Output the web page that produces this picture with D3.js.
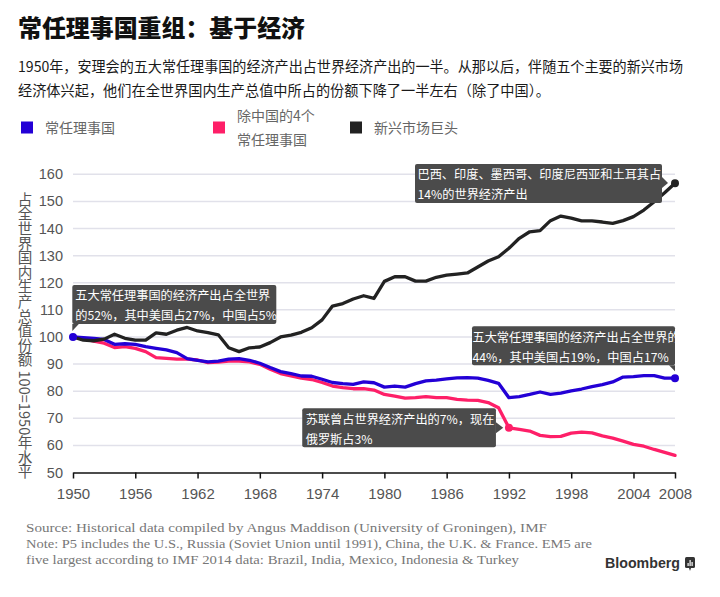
<!DOCTYPE html>
<html>
<head>
<meta charset="utf-8">
<script src="https://cdn.jsdelivr.net/npm/d3@7"></script>
<style>
  html, body { margin: 0; padding: 0; background: #fff; }
  svg { display: block; }
</style>
</head>
<body>
<svg id="chart" width="720" height="597"></svg>
<script>
// ---------------- DATA ----------------
const years = [1950,1951,1952,1953,1954,1955,1956,1957,1958,1959,
               1960,1961,1962,1963,1964,1965,1966,1967,1968,1969,
               1970,1971,1972,1973,1974,1975,1976,1977,1978,1979,
               1980,1981,1982,1983,1984,1985,1986,1987,1988,1989,
               1990,1991,1992,1993,1994,1995,1996,1997,1998,1999,
               2000,2001,2002,2003,2004,2005,2006,2007,2008];

// P5: permanent members of the UN Security Council
const p5 = [100,99.75,99.5,99.1,97.3,97.5,97.3,96.4,95.8,95.2,
            94.2,92,91.4,90.8,91.1,91.8,92,91.4,90.3,88.7,
            87.2,86.5,85.6,85.5,84.4,83.2,82.8,82.5,83.4,83.1,
            81.5,81.9,81.5,82.8,83.8,84.1,84.5,84.9,85.0,84.8,
            84.0,82.9,77.6,78.0,78.8,79.7,78.8,79.3,80.1,80.8,
            81.7,82.4,83.4,85.2,85.4,85.7,85.7,84.8,84.8];

// P4: P5 excluding China
const p4 = [100,99.4,98.5,97.7,96.1,96.4,95.8,94.6,92.4,92.1,
            91.8,91.8,91.5,90.5,90.7,91.1,91.1,90.8,89.9,88.1,
            86.5,85.6,84.8,84.3,83.2,81.9,81.3,80.9,80.9,80.4,
            78.8,78.2,77.4,77.6,78.0,77.6,77.6,77.0,76.7,76.6,
            75.8,73.9,66.5,65.9,65.3,63.7,63.2,63.3,64.5,64.9,
            64.6,63.5,62.7,61.6,60.4,59.7,58.5,57.4,56.3];

// EM5: emerging-market giants
const em5 = [100,98.8,98.6,99.2,101,99.5,98.8,98.8,101.5,101,
             102.5,103.5,102.2,101.6,100.8,96,94.6,96,96.3,97.9,
             100,100.7,101.7,103.4,106.3,111.4,112.3,114,115.2,114.2,
             120.5,122.2,122.2,120.6,120.6,122,122.8,123.2,123.6,125.8,
             128,129.6,132.7,136.4,138.8,139.2,142.9,144.6,143.8,142.8,
             142.8,142.4,141.9,142.9,144.4,146.8,149.9,153.2,156.7];

const xTicks = [1950,1956,1962,1968,1974,1980,1986,1992,1998,2004,2008];
const yTicks = [50,60,70,80,90,100,110,120,130,140,150,160];

const seriesNames = ["常任理事国", "除中国的4个|常任理事国", "新兴市场巨头"];

const titleText = "常任理事国重组：基于经济";
const subtitleLines = [
  "1950年，安理会的五大常任理事国的经济产出占世界经济产出的一半。从那以后，伴随五个主要的新兴市场",
  "经济体兴起，他们在全世界国内生产总值中所占的份额下降了一半左右（除了中国）。"
];
const yAxisTitle = "占全世界国内生产总值份额 100=1950年水平";
const footerLines = [
  "Source: Historical data compiled by Angus Maddison (University of Groningen), IMF",
  "Note: P5 includes the U.S., Russia (Soviet Union until 1991), China, the U.K. & France. EM5 are",
  "five largest according to IMF 2014 data: Brazil, India, Mexico, Indonesia & Turkey"
];

const annoTexts = [
  ["五大常任理事国的经济产出占全世界", "的52%，其中美国占27%，中国占5%"],
  ["巴西、印度、墨西哥、印度尼西亚和土耳其占", "14%的世界经济产出"],
  ["五大常任理事国的经济产出占全世界的", "44%，其中美国占19%，中国占17%"],
  ["苏联曾占世界经济产出的7%，现在", "俄罗斯占3%"]
];

// ---------------- LAYOUT / STYLE ----------------
const colors = { p5: "#2300d6", p4: "#fe1f68", em5: "#222222" };
const CJK = "'Noto Sans CJK SC', 'Noto Sans', sans-serif";
const SANS = "'Liberation Sans', Arial, sans-serif";
const SERIF = "'Liberation Serif', 'DejaVu Serif', serif";

const svg = d3.select("#chart");
const plot = { left: 73, right: 675, top: 174.3, bottom: 472.5 };

const x = d3.scaleLinear().domain([1950, 2008]).range([plot.left, plot.right]);
const y = d3.scaleLinear().domain([50, 160]).range([plot.bottom, plot.top]);

// Title
svg.append("text")
  .attr("x", 18).attr("y", 37)
  .attr("font-family", CJK).attr("font-weight", 900)
  .attr("font-size", 23.5).attr("fill", "#111")
  .attr("textLength", 287).attr("lengthAdjust", "spacingAndGlyphs")
  .text(titleText);

// Subtitle
const subW = [665, 532];
subtitleLines.forEach((t, i) => {
  svg.append("text")
    .attr("x", 18).attr("y", 72 + i * 24)
    .attr("font-family", CJK).attr("font-size", 14.3).attr("fill", "#1a1a1a")
    .attr("textLength", subW[i]).attr("lengthAdjust", "spacingAndGlyphs")
    .text(t);
});

// Legend
const legendItems = [
  { key: "p5", x: 21, label: seriesNames[0] },
  { key: "p4", x: 213, label: seriesNames[1] },
  { key: "em5", x: 350, label: seriesNames[2] }
];
legendItems.forEach(it => {
  svg.append("rect").attr("x", it.x).attr("y", 121.5).attr("width", 12).attr("height", 12)
    .attr("fill", colors[it.key]);
  const parts = it.label.split("|");
  parts.forEach((p, j) => {
    const yy = parts.length === 1 ? 132.5 : 121 + j * 24;
    svg.append("text")
      .attr("x", it.x + 24).attr("y", yy)
      .attr("font-family", CJK).attr("font-size", 14).attr("fill", "#666")
      .text(p);
  });
});

// Gridlines
svg.append("g").selectAll("line")
  .data(yTicks.filter(d => d > 50))
  .join("line")
  .attr("x1", plot.left).attr("x2", plot.right)
  .attr("y1", d => y(d)).attr("y2", d => y(d))
  .attr("stroke", "#e1e1ea").attr("stroke-width", 1.5);

// Y tick labels
svg.append("g").selectAll("text")
  .data(yTicks)
  .join("text")
  .attr("x", 63).attr("y", d => y(d) + 5)
  .attr("text-anchor", "end")
  .attr("font-family", SANS).attr("font-size", 14.5).attr("fill", "#555")
  .text(d => d);

// Y axis title (vertical)
svg.append("text")
  .attr("x", 25).attr("y", 192)
  .attr("font-family", CJK).attr("font-size", 14.6).attr("fill", "#555")
  .style("writing-mode", "vertical-rl")
  .style("text-orientation", "mixed")
  .text(yAxisTitle);

// X axis
const xAxis = d3.axisBottom(x).tickValues(xTicks).tickFormat(d3.format("d")).tickSize(6).tickSizeOuter(0).tickPadding(10);
const gx = svg.append("g").attr("transform", `translate(0,${plot.bottom})`).call(xAxis);
gx.select(".domain").attr("stroke", "#111").attr("stroke-width", 1.5);
gx.selectAll(".tick line").attr("stroke", "#111").attr("stroke-width", 1.5);
gx.selectAll(".tick text")
  .attr("font-family", SANS).attr("font-size", 15).attr("fill", "#555");

// Lines
const line = d3.line().x((d, i) => x(years[i])).y(d => y(d)).curve(d3.curveLinear);
[["p4", p4], ["p5", p5], ["em5", em5]].forEach(([k, arr]) => {
  svg.append("path").datum(arr)
    .attr("d", line)
    .attr("fill", "none")
    .attr("stroke", colors[k]).attr("stroke-width", 3.3)
    .attr("stroke-linejoin", "round").attr("stroke-linecap", "round");
});

// Dots
const dots = [
  { yr: 1950, v: p5[0], c: colors.p5 },
  { yr: 2008, v: p5[p5.length - 1], c: colors.p5 },
  { yr: 2008, v: em5[em5.length - 1], c: colors.em5 },
  { yr: 1992, v: p4[years.indexOf(1992)], c: colors.p4 }
];
svg.append("g").selectAll("circle").data(dots).join("circle")
  .attr("cx", d => x(d.yr)).attr("cy", d => y(d.v)).attr("r", 4)
  .attr("fill", d => d.c);

// Annotations (anchored to data points via the scales)
const annos = [
  { ax: x(1950), ay: y(p5[0]), dx: -0.7, dy: -52, w: 204, tx: 3,
    ptr: [[0, 39], [6.5, 39], [0, 46]] },
  { ax: x(2008), ay: y(em5[em5.length - 1]), dx: -260, dy: -19.3, w: 247, tx: 2.5,
    ptr: [[247, 13], [253, 19], [247, 24]] },
  { ax: x(2008), ay: y(p5[p5.length - 1]), dx: -203, dy: -52, w: 203, tx: 0.5,
    ptr: [[197, 39], [203, 39], [203, 45]] },
  { ax: x(1992), ay: y(p4[years.indexOf(1992)]), dx: -206.7, dy: -19.6, w: 193.7, tx: 3.5,
    ptr: [[193.7, 14], [201, 19.6], [193.7, 25]] }
];
annos.forEach((a, i) => {
  const g = svg.append("g").attr("transform", `translate(${a.ax + a.dx},${a.ay + a.dy})`);
  g.append("rect").attr("width", a.w).attr("height", 39).attr("rx", 2)
    .attr("fill", "#4b4b4b");
  g.append("path").attr("d", "M" + a.ptr.map(p => p.join(",")).join("L") + "Z")
    .attr("fill", "#4b4b4b");
  annoTexts[i].forEach((t, j) => {
    g.append("text").attr("x", a.tx).attr("y", 15.5 + j * 20)
      .attr("font-family", CJK).attr("font-size", 12.2).attr("fill", "#fff")
      .text(t);
  });
});

// Footer
const footW = [521, 566, 493];
footerLines.forEach((t, i) => {
  svg.append("text")
    .attr("x", 26).attr("y", 532 + i * 16)
    .attr("font-family", SERIF).attr("font-size", 13.5).attr("fill", "#777")
    .attr("textLength", footW[i]).attr("lengthAdjust", "spacingAndGlyphs")
    .text(t);
});

// Bloomberg mark
svg.append("text")
  .attr("x", 605).attr("y", 568)
  .attr("font-family", SANS).attr("font-weight", 700).attr("font-size", 14)
  .attr("fill", "#333")
  .attr("textLength", 75).attr("lengthAdjust", "spacingAndGlyphs")
  .text("Bloomberg");
const logo = svg.append("g").attr("transform", "translate(685,557)");
logo.append("rect").attr("width", 10).attr("height", 11).attr("rx", 1.5).attr("fill", "#333");
logo.append("path").attr("d", "M4,11 L6,11 L5,14 Z").attr("fill", "#333");
[[2.5, 6, 3], [4.5, 3, 6], [6.5, 5, 4]].forEach(b => {
  logo.append("rect").attr("x", b[0]).attr("y", b[1]).attr("width", 1.2).attr("height", b[2]).attr("fill", "#fff");
});
</script>
</body>
</html>
